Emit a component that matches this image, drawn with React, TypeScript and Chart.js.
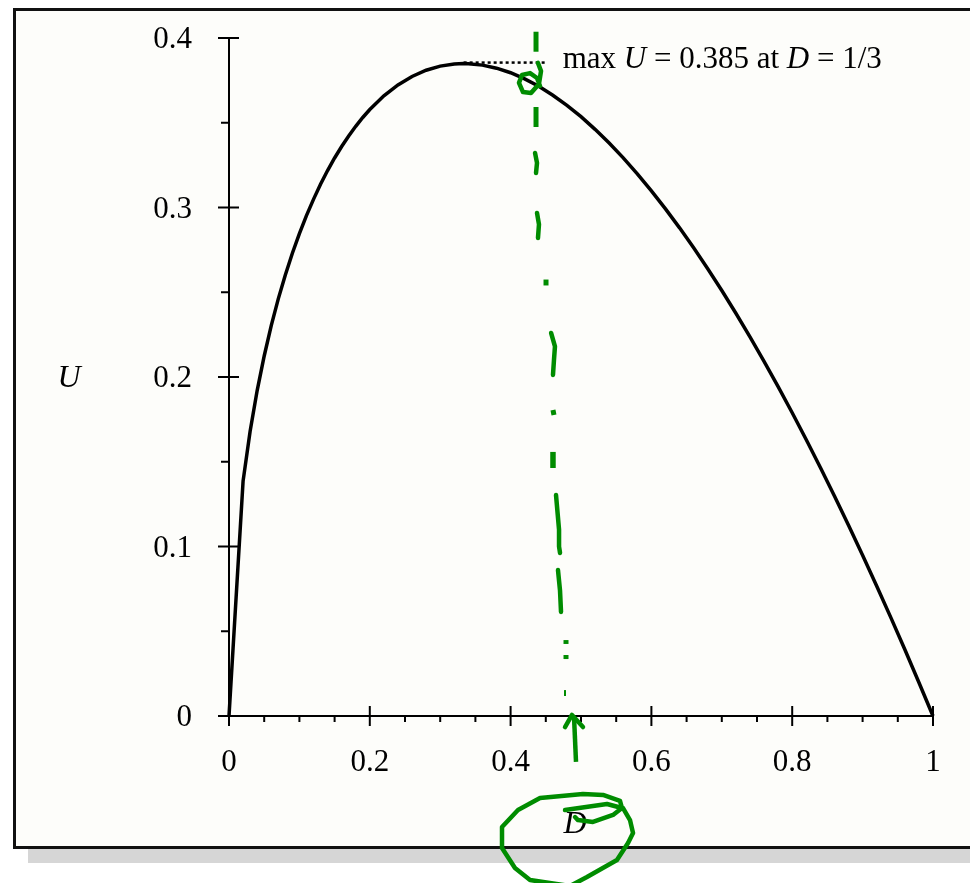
import { useEffect, useRef } from 'react';
import { Chart, registerables } from 'chart.js';

Chart.register(...registerables);

// Utility curve U(D): a coarse first step, then finer sampling, plus the peak at D = 1/3
const dValues = [
  0, 0.02, 0.03, 0.04, 0.05, 0.06, 0.07, 0.08, 0.09, 0.1, 0.11, 0.12, 0.13, 0.14, 0.15, 0.16, 0.17,
  0.18, 0.19, 0.2, 0.22, 0.24, 0.26, 0.28, 0.3, 0.32, 0.3333, 0.34, 0.36, 0.38, 0.4, 0.42, 0.44,
  0.46, 0.48, 0.5, 0.52, 0.54, 0.56, 0.58, 0.6, 0.62, 0.64, 0.66, 0.68, 0.7, 0.72, 0.74, 0.76,
  0.78, 0.8, 0.82, 0.84, 0.86, 0.88, 0.9, 0.92, 0.94, 0.96, 0.98, 1,
];
const uValues = [
  0, 0.1386, 0.168, 0.192, 0.2124, 0.2303, 0.2461, 0.2602, 0.273, 0.2846, 0.2952, 0.3048, 0.3137,
  0.3218, 0.3292, 0.336, 0.3422, 0.3479, 0.3531, 0.3578, 0.3659, 0.3723, 0.3773, 0.381, 0.3834,
  0.3847, 0.3849, 0.3848, 0.384, 0.3822, 0.3795, 0.3759, 0.3715, 0.3662, 0.3603, 0.3536, 0.3461,
  0.338, 0.3293, 0.3199, 0.3098, 0.2992, 0.288, 0.2762, 0.2639, 0.251, 0.2376, 0.2237, 0.2092,
  0.1943, 0.1789, 0.163, 0.1466, 0.1298, 0.1126, 0.0949, 0.0767, 0.0582, 0.0392, 0.0198, 0,
];

// Dotted leader from the maximum to its label
const maxLineD = [0.3333, 0.449];
const maxLineU = [0.3855, 0.3855];
const maxLabelAt = { d: 0.474, u: 0.385 };
const maxLabelParts: [string, boolean][] = [
  ['max ', false],
  ['U', true],
  [' = 0.385 at ', false],
  ['D', true],
  [' = 1/3', false],
];

// Axes
const xTickValues = [0, 0.2, 0.4, 0.6, 0.8, 1];
const xTickLabels = ['0', '0.2', '0.4', '0.6', '0.8', '1'];
const xMinorTicks = [0.05, 0.1, 0.15, 0.25, 0.3, 0.35, 0.45, 0.5, 0.55, 0.65, 0.7, 0.75, 0.85, 0.9, 0.95];
const yTickValues = [0, 0.1, 0.2, 0.3, 0.4];
const yTickLabels = ['0', '0.1', '0.2', '0.3', '0.4'];
const yMinorTicks = [0.05, 0.15, 0.25, 0.35];
const xTitle = 'D';
const yTitle = 'U';

// Green pen marks, in (D, U) units
const inkStrokes: { w: number; pts: [number, number][] }[] = [
  { w: 5, pts: [[0.4361, 0.4037], [0.4361, 0.3919]] },
  {
    w: 4.5,
    pts: [
      [0.4389, 0.3853], [0.4432, 0.3805], [0.4403, 0.3729], [0.429, 0.3675], [0.4176, 0.3681],
      [0.4119, 0.3735], [0.4162, 0.3782], [0.4276, 0.3793], [0.4375, 0.3764], [0.4418, 0.3717],
    ],
  },
  { w: 5, pts: [[0.4361, 0.3593], [0.4361, 0.3475]] },
  { w: 4.5, pts: [[0.4347, 0.3322], [0.4375, 0.3263], [0.4361, 0.3204]] },
  { w: 4.5, pts: [[0.4375, 0.2968], [0.4403, 0.29], [0.4389, 0.282]] },
  { w: 5, pts: [[0.4503, 0.2575], [0.4503, 0.254]] },
  { w: 4.5, pts: [[0.4575, 0.226], [0.463, 0.218], [0.4616, 0.21], [0.4602, 0.2012]] },
  { w: 5, pts: [[0.4602, 0.1805], [0.4616, 0.1776]] },
  { w: 5.5, pts: [[0.4602, 0.1558], [0.4602, 0.1463]] },
  { w: 4.5, pts: [[0.4645, 0.1304], [0.4688, 0.11], [0.4688, 0.1], [0.4702, 0.0962]] },
  { w: 4.5, pts: [[0.4673, 0.0861], [0.4702, 0.074], [0.4716, 0.0614]] },
  { w: 5, pts: [[0.4787, 0.0448], [0.4787, 0.0425]] },
  { w: 5, pts: [[0.4787, 0.036], [0.4787, 0.0336]] },
  { w: 2, pts: [[0.4773, 0.0153], [0.4773, 0.0118]] },
  { w: 4.5, pts: [[0.4929, -0.0271], [0.4901, -0.0006]] },
  { w: 4.5, pts: [[0.4773, -0.0065], [0.4872, 0.0006], [0.5028, -0.0065]] },
  {
    w: 4.5,
    pts: [
      [0.4773, -0.0555], [0.5369, -0.0519], [0.5582, -0.0543], [0.5455, -0.0584],
      [0.517, -0.0625], [0.4957, -0.0614], [0.4915, -0.0596],
    ],
  },
  {
    w: 4.5,
    pts: [
      [0.5582, -0.0543], [0.5554, -0.0501], [0.5313, -0.0466], [0.5028, -0.046], [0.4418, -0.0484],
      [0.4105, -0.0555], [0.3878, -0.0655], [0.3878, -0.0779], [0.4062, -0.0897], [0.4276, -0.0968],
      [0.4844, -0.1003], [0.5085, -0.095], [0.5511, -0.085], [0.5668, -0.0749], [0.5739, -0.069],
      [0.5696, -0.0614], [0.5597, -0.0543],
    ],
  },
];

const SERIF = '"Liberation Serif", "DejaVu Serif", serif';
const INK = '#008c00';
const TEXT_SIZE = 31;

const figurePlugin = {
  id: 'figureAxes',
  beforeDatasetsDraw(chart: any) {
    const { ctx, chartArea: a, scales } = chart;
    const x = scales.x;
    const y = scales.y;
    ctx.save();
    ctx.strokeStyle = '#000';
    ctx.lineWidth = 2;
    ctx.lineCap = 'butt';
    ctx.beginPath();
    ctx.moveTo(a.left, y.getPixelForValue(0));
    ctx.lineTo(a.left, y.getPixelForValue(0.4));
    ctx.moveTo(a.left, a.bottom);
    ctx.lineTo(a.right, a.bottom);
    xTickValues.forEach((v) => {
      const px = x.getPixelForValue(v);
      ctx.moveTo(px, a.bottom - 10);
      ctx.lineTo(px, a.bottom + 10);
    });
    xMinorTicks.forEach((v) => {
      const px = x.getPixelForValue(v);
      ctx.moveTo(px, a.bottom);
      ctx.lineTo(px, a.bottom + 6);
    });
    yTickValues.forEach((v) => {
      const py = y.getPixelForValue(v);
      ctx.moveTo(a.left - 11, py);
      ctx.lineTo(a.left + 10, py);
    });
    yMinorTicks.forEach((v) => {
      const py = y.getPixelForValue(v);
      ctx.moveTo(a.left - 8, py);
      ctx.lineTo(a.left, py);
    });
    ctx.stroke();

    ctx.fillStyle = '#000';
    ctx.font = `${TEXT_SIZE}px ${SERIF}`;
    ctx.textBaseline = 'alphabetic';
    ctx.textAlign = 'center';
    xTickValues.forEach((v, i) => {
      ctx.fillText(xTickLabels[i], x.getPixelForValue(v), a.bottom + 55);
    });
    ctx.textAlign = 'right';
    yTickValues.forEach((v, i) => {
      ctx.fillText(yTickLabels[i], a.left - 37, y.getPixelForValue(v) + 10);
    });

    ctx.font = `italic 32px ${SERIF}`;
    ctx.textAlign = 'center';
    ctx.fillText(yTitle, a.left - 160, (a.top + a.bottom) / 2 + 10);
    ctx.fillText(xTitle, (a.left + a.right) / 2 - 6, a.bottom + 117);
    ctx.restore();
  },
  afterDraw(chart: any) {
    const { ctx, scales } = chart;
    const x = scales.x;
    const y = scales.y;
    ctx.save();
    // label of the maximum
    let cx = x.getPixelForValue(maxLabelAt.d);
    const by = y.getPixelForValue(maxLabelAt.u) + 5;
    ctx.fillStyle = '#000';
    ctx.textAlign = 'left';
    ctx.textBaseline = 'alphabetic';
    maxLabelParts.forEach(([t, it]) => {
      ctx.font = `${it ? 'italic ' : ''}${TEXT_SIZE}px ${SERIF}`;
      ctx.fillText(t, cx, by);
      cx += ctx.measureText(t).width;
    });

    // green pen marks
    ctx.strokeStyle = INK;
    ctx.lineJoin = 'round';
    inkStrokes.forEach((s) => {
      ctx.lineWidth = s.w;
      ctx.lineCap = s.pts.length > 2 ? 'round' : 'butt';
      ctx.beginPath();
      s.pts.forEach(([d, u], i) => {
        const px = x.getPixelForValue(d);
        const py = y.getPixelForValue(u);
        if (i === 0) ctx.moveTo(px, py);
        else ctx.lineTo(px, py);
      });
      ctx.stroke();
    });
    ctx.restore();
  },
};

export default function App() {
  const canvasRef = useRef<HTMLCanvasElement | null>(null);

  useEffect(() => {
    const canvas = canvasRef.current;
    if (!canvas) return;
    const chart = new Chart(canvas, {
      type: 'scatter',
      data: {
        datasets: [
          {
            data: dValues.map((d, i) => ({ x: d, y: uValues[i] })),
            showLine: true,
            borderColor: '#000',
            borderWidth: 3.5,
            pointRadius: 0,
            tension: 0,
            clip: 20,
          },
          {
            data: maxLineD.map((d, i) => ({ x: d, y: maxLineU[i] })),
            showLine: true,
            borderColor: '#000',
            borderWidth: 2.5,
            borderDash: [3, 3],
            pointRadius: 0,
            clip: 20,
          },
        ],
      },
      options: {
        responsive: false,
        animation: false,
        events: [],
        layout: { padding: { left: 229, right: 37, top: 38, bottom: 167 } },
        plugins: { legend: { display: false }, tooltip: { enabled: false } },
        scales: {
          x: { type: 'linear', min: 0, max: 1, display: false },
          y: { type: 'linear', min: 0, max: 0.4, display: false },
        },
      },
      plugins: [figurePlugin],
    });
    return () => chart.destroy();
  }, []);

  return (
    <div
      style={{
        position: 'absolute',
        left: 0,
        top: 0,
        width: 970,
        height: 883,
        overflow: 'hidden',
        background: '#ffffff',
      }}
    >
      <div
        style={{
          position: 'absolute',
          left: 28,
          top: 849,
          width: 960,
          height: 14,
          background: '#d6d6d6',
        }}
      />
      <div
        style={{
          position: 'absolute',
          left: 13,
          top: 8,
          width: 980,
          height: 841,
          boxSizing: 'border-box',
          border: '3px solid #111',
          background: '#fdfdfa',
        }}
      />
      <canvas
        ref={canvasRef}
        width={970}
        height={883}
        style={{ position: 'absolute', left: 0, top: 0, width: 970, height: 883 }}
      />
    </div>
  );
}
